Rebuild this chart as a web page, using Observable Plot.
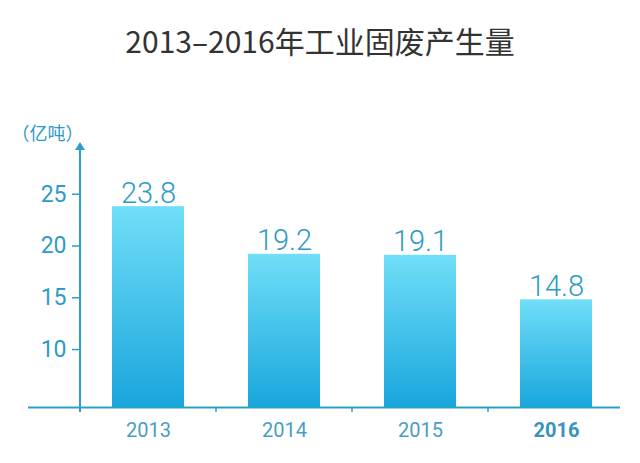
<!DOCTYPE html>
<html>
<head>
<meta charset="utf-8">
<script src="https://cdn.jsdelivr.net/npm/d3@7"></script>
<script src="https://cdn.jsdelivr.net/npm/@observablehq/plot@0.6"></script>
<style>
  html, body { margin: 0; padding: 0; background: #fff; }
  #title { width: 640px; height: 46px; padding-top: 23px; line-height: 34px; text-align: center;
    font-family: "Noto Sans CJK SC", "Noto Sans", sans-serif; font-size: 30px; color: #333; }
  #chart svg { display: block; }
</style>
</head>
<body>
<div id="title">2013–2016年工业固废产生量</div>
<div id="chart"></div>
<script>
// ---- data ----
const years = ["2013", "2014", "2015", "2016"];
const values = [23.8, 19.2, 19.1, 14.8];
const yTicks = [10, 15, 20, 25];
const highlightYear = "2016";
const unitLabel = "（亿吨）";
const yDomain = [4.4, 30];

const data = years.map((year, i) => ({year, value: values[i]}));
const axisColor = "#2a9fcb";
const textColor = "#2e9bc6";
const padInner = 0.47;

const defs = () => {
  const g = d3.create("svg:g");
  const grad = g.append("defs").append("linearGradient")
    .attr("id", "barGrad").attr("x1", 0).attr("y1", 0).attr("x2", 0).attr("y2", 1);
  grad.append("stop").attr("offset", "0%").attr("stop-color", "#70def8");
  grad.append("stop").attr("offset", "100%").attr("stop-color", "#19a6dc");
  return g.node();
};

const axisDecor = (index, scales, values, dims) => {
  const {x, y} = scales;
  const g = d3.create("svg:g");
  const left = dims.marginLeft;
  const top = y(yDomain[1]);
  const base = y(yDomain[0]);
  // vertical axis line with arrow
  g.append("line").attr("x1", left).attr("x2", left).attr("y1", top + 6).attr("y2", base + 5)
    .attr("stroke", axisColor).attr("stroke-width", 2);
  g.append("path").attr("d", `M${left},${top} L${left - 5},${top + 8} L${left + 5},${top + 8} Z`)
    .attr("fill", axisColor);
  // ticks between categories
  const bw = x.bandwidth();
  const step = x(years[1]) - x(years[0]);
  years.slice(0, -1).forEach(d => {
    const bx = x(d) + bw / 2 + step / 2;
    g.append("line").attr("x1", bx).attr("x2", bx).attr("y1", base).attr("y2", base + 5)
      .attr("stroke", axisColor).attr("stroke-width", 1.5);
  });
  return g.node();
};

const chart = Plot.plot({
  width: 640,
  height: 393,
  marginTop: 73,
  marginBottom: 55,
  marginLeft: 80,
  marginRight: 15,
  style: {fontFamily: "Roboto, 'Noto Sans', sans-serif", background: "#fff"},
  x: {domain: years, paddingInner: padInner, paddingOuter: padInner / 2, axis: null},
  y: {domain: yDomain, axis: null},
  marks: [
    defs,
    Plot.barY(data, {x: "year", y1: yDomain[0], y2: "value", fill: "url(#barGrad)"}),
    Plot.ruleY([yDomain[0]], {stroke: axisColor, strokeWidth: 2, insetLeft: -52, insetRight: 5}),
    axisDecor,
    Plot.axisY(yTicks, {anchor: "left", tickSize: 8, tickPadding: 6, stroke: axisColor, strokeWidth: 1.5,
      fill: textColor, fontSize: 23, label: null}),
    Plot.text(data, {x: "year", y: "value", text: d => d.value.toFixed(1), lineAnchor: "bottom", dy: -4,
      fill: textColor, fontSize: 29, fontWeight: 300}),
    Plot.text(years.filter(d => d !== highlightYear), {x: d => d, y: yDomain[0], dy: 23,
      fill: "#4a9dc3", fontSize: 20}),
    Plot.text([highlightYear], {x: d => d, y: yDomain[0], dy: 23,
      fill: "#3a93bd", fontSize: 20, fontWeight: "bold"}),
    Plot.text([unitLabel], {frameAnchor: "top-left", textAnchor: "start", dx: -69, dy: -15, fill: textColor, fontSize: 18,
      fontFamily: "'Noto Sans CJK SC', sans-serif"})
  ]
});
document.getElementById("chart").append(chart);
</script>
</body>
</html>
